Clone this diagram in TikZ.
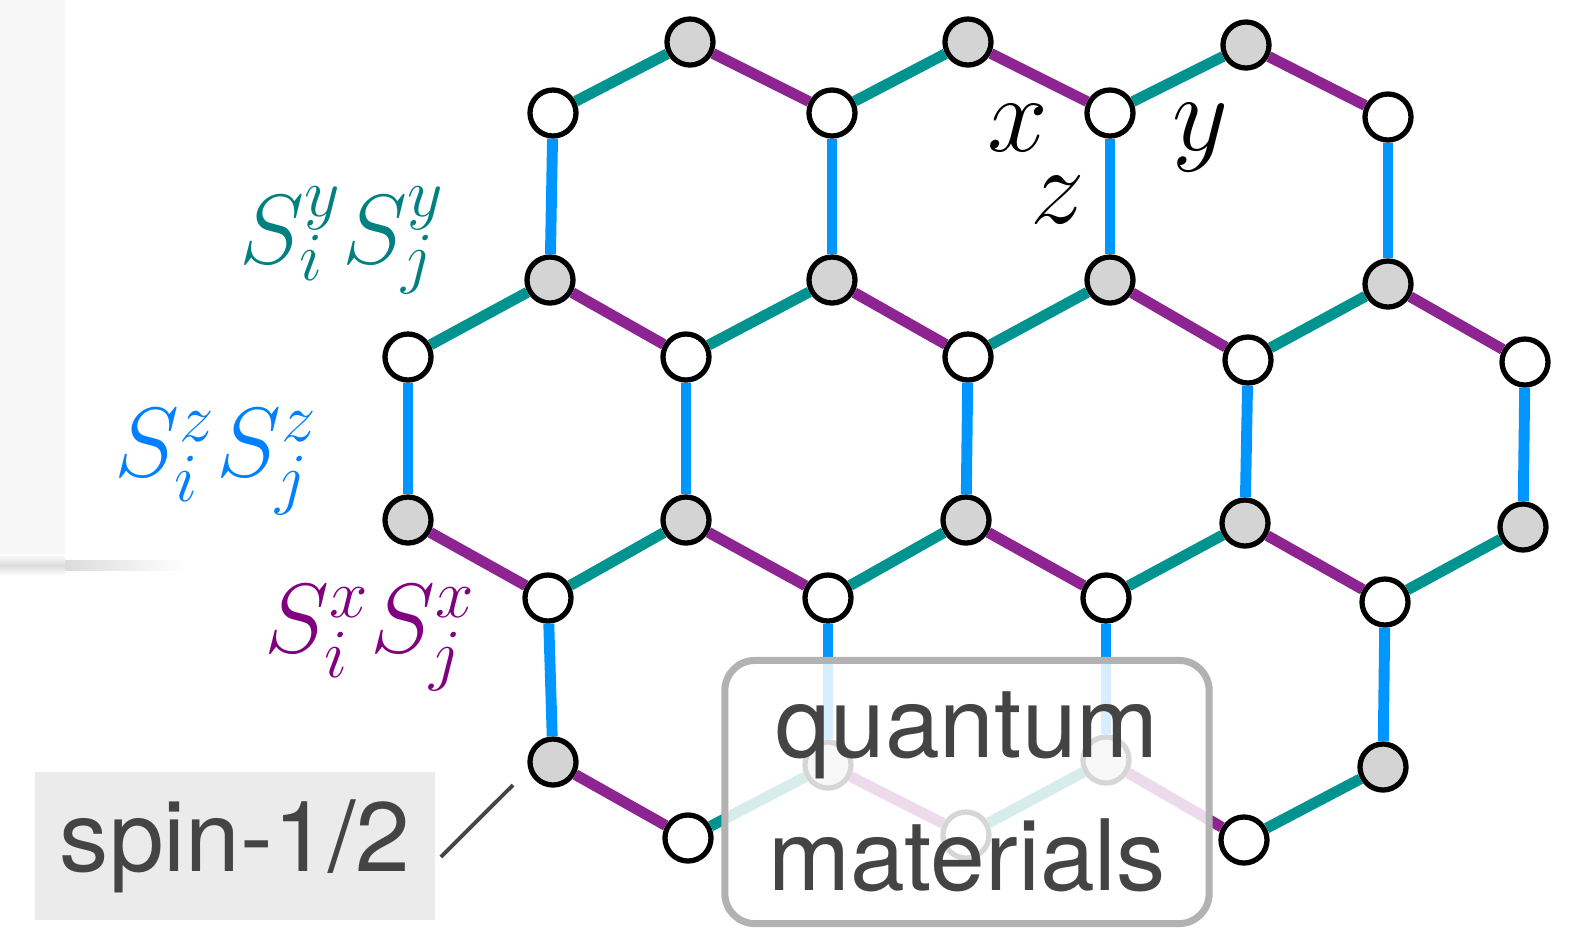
\RequirePackage{fix-cm}
\documentclass[tikz,border=0pt]{standalone}
\usepackage{fontspec}
\newfontfamily\labelfont{TeX Gyre Heros}
\usepackage{tikz}
\usetikzlibrary{positioning}

\definecolor{xcol}{HTML}{8E2392}
\definecolor{ycol}{HTML}{00938F}
\definecolor{zcol}{HTML}{0096FF}
\definecolor{xtext}{HTML}{800080}
\definecolor{ytext}{HTML}{008080}
\definecolor{ztext}{HTML}{0080FF}
\definecolor{sitegray}{HTML}{D4D4D4}
\definecolor{inkgray}{HTML}{444444}

\begin{document}
\begin{tikzpicture}[x=0.01cm, y=-0.01cm,
  site/.style={circle, draw, line width=1.5pt, minimum size=0.46cm, inner sep=0pt},
  gsite/.style={site, fill=sitegray},
  wsite/.style={site, fill=white},
  xbond/.style={draw=xcol, line width=3.1pt},
  ybond/.style={draw=ycol, line width=3.1pt},
  zbond/.style={draw=zcol, line width=3.1pt},
  coupling/.style={font=\fontsize{28}{34}\selectfont, inner sep=0pt},
  axis/.style={font=\fontsize{31}{37}\selectfont, inner sep=0pt},
  tag/.style={font=\labelfont\fontsize{28}{37.8}\selectfont, text=inkgray, align=center}
]
  \useasboundingbox (0,0) rectangle (1569,929);
  % left panel edge with its shadow
  \fill[black!3] (0,0) rectangle (65,558);
  \shade[top color=white, bottom color=white, middle color=black!14] (0,554) rectangle (65,576);
  \shade[left color=black!14, right color=white] (65,560) rectangle (185,570);

  % lattice sites
  \foreach \n/\x/\y in {g1/690/42, g2/968/42, g3/1246/45,
    g4/550/280, g5/832/280, g6/1110/280, g7/1388/284,
    g8/408/520, g9/686/520, g10/966/520, g11/1245/523, g12/1523/527,
    g13/553/762, g14/828/765, g15/1106/760, g16/1383/767}
    \node[gsite] (\n) at (\x,\y) {};
  \foreach \n/\x/\y in {w1/553/113, w2/832/113, w3/1110/113, w4/1388/117,
    w5/408/357, w6/686/357, w7/968/357, w8/1248/360, w9/1525/362,
    w10/548/598, w11/828/598, w12/1106/598, w13/1385/602,
    w14/688/838, w15/966/835, w16/1244/840}
    \node[wsite] (\n) at (\x,\y) {};

  % bonds
  \foreach \a/\b in {w1/g4, w2/g5, w3/g6, w4/g7, w5/g8, w6/g9, w7/g10,
    w8/g11, w9/g12, w10/g13, w11/g14, w12/g15, w13/g16}
    \draw[zbond] (\a) -- (\b);
  \foreach \a/\b in {g1/w1, g2/w2, g3/w3, g4/w5, g5/w6, g6/w7, g7/w8,
    g9/w10, g10/w11, g11/w12, g12/w13, g14/w14, g15/w15, g16/w16}
    \draw[ybond] (\a) -- (\b);
  \foreach \a/\b in {g1/w2, g2/w3, g3/w4, g4/w6, g5/w7, g6/w8, g7/w9,
    g8/w10, g9/w11, g10/w12, g11/w13, g13/w14, g14/w15, g15/w16}
    \draw[xbond] (\a) -- (\b);

  % couplings
  \node[coupling, text=ytext] (ylab) at (342,240) {$S_i^yS_j^y$};
  \node[coupling, text=ztext] (zlab) at (216,462) {$S_i^zS_j^z$};
  \node[coupling, text=xtext] (xlab) at (370,638) {$S_i^xS_j^x$};

  \node[axis] (xax) at (1018,128) {$x$};
  \node[axis] (yax) at (1200,138) {$y$};
  \node[axis] (zax) at (1058,200) {$z$};

  % labels
  \node[tag, fill=black!8, minimum width=4cm, minimum height=1.48cm] (spin) at (235,846) {spin-1/2};
  \coordinate (tip) at (513,785);
  \draw[inkgray, line width=1.1pt] ([shift={(5,11)}]spin.east) -- (tip);

  \node[tag, draw=black!30, line width=2pt, rounded corners=0.3cm, fill=white, fill opacity=0.84,
    text opacity=1, minimum width=4.84cm, minimum height=2.63cm] (qm) at (967,792) {quantum\\materials};
\end{tikzpicture}
\end{document}
